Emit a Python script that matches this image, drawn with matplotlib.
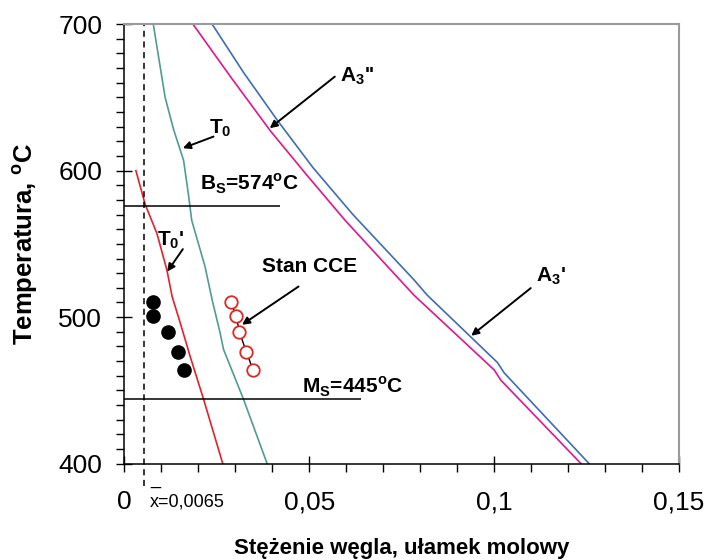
import numpy as np
import matplotlib
matplotlib.use('Agg')
import matplotlib.pyplot as plt
from matplotlib.ticker import MultipleLocator, FixedLocator

plt.rcParams['font.family'] = ['Liberation Sans', 'DejaVu Sans']
plt.rcParams['mathtext.fontset'] = 'custom'
plt.rcParams['mathtext.rm'] = 'Liberation Sans'
plt.rcParams['mathtext.bf'] = 'Liberation Sans:bold'

# --- data ---
# A3' (blue)
a3p_T = [700, 667, 634.5, 602, 570, 525.5, 515, 469, 462, 400]
a3p_x = [0.0237, 0.0322, 0.0413, 0.0510, 0.0618, 0.0783, 0.0819, 0.1009, 0.1027, 0.1257]
# A3'' (magenta)
a3pp_T = [700, 664, 627, 597, 566, 515, 464, 457, 400]
a3pp_x = [0.0185, 0.0287, 0.0395, 0.0493, 0.0597, 0.0783, 0.1000, 0.1018, 0.1235]
# T0 (teal)
t0_T = [700, 650, 628, 607, 582, 566, 534.5, 512, 489, 478, 444, 400]
t0_x = [0.0078, 0.0110, 0.0133, 0.0160, 0.0174, 0.0182, 0.0218, 0.0237, 0.0259, 0.0268, 0.0322, 0.0386]
# T0' (red)
t0p_T = [600, 577, 557, 532, 514, 496, 473, 444, 400]
t0p_x = [0.0031, 0.0056, 0.0088, 0.0115, 0.0129, 0.0151, 0.0178, 0.0214, 0.0266]
# measured points
pts_T = [510, 501, 490, 476, 464]
bain_x = [0.0076, 0.0077, 0.0119, 0.0146, 0.0160]   # filled black
cce_x = [0.0288, 0.0302, 0.0311, 0.0330, 0.0348]    # open red (Stan CCE)

x_mean = 0.0053
Bs = 576
Ms = 444

fig = plt.figure(figsize=(7.07, 5.6), dpi=100)
ax = fig.add_axes([0.176, 0.172, 0.7844, 0.7851])

ax.plot(a3p_x, a3p_T, color='#3c6cbe', lw=1.2)
ax.plot(a3pp_x, a3pp_T, color='#e6158a', lw=1.2)
ax.plot(t0_x, t0_T, color='#4f9d92', lw=1.2)
ax.plot(t0p_x, t0p_T, color='#e8202a', lw=1.2)

ax.plot(cce_x, pts_T, color='black', lw=1.0, zorder=3)
ax.plot(cce_x, pts_T, 'o', ms=9, mfc='white', mec='#e52521', mew=1.3, zorder=4)
ax.plot(bain_x, pts_T, 'o', ms=9.5, color='black', zorder=4)

ax.hlines(Bs, 0, 0.0422, color='black', lw=1.1)
ax.hlines(Ms, 0, 0.0639, color='black', lw=1.1)
ax.axvline(x_mean, ymin=-0.051, ymax=1, color='black', lw=1.1,
           ls=(0, (4, 3)), clip_on=False)

ax.set_xlim(0, 0.15)
ax.set_ylim(400, 700)

ax.xaxis.set_major_locator(FixedLocator([0, 0.05, 0.1, 0.15]))
ax.xaxis.set_minor_locator(MultipleLocator(0.01))
ax.yaxis.set_major_locator(MultipleLocator(100))
ax.yaxis.set_minor_locator(MultipleLocator(10))
ax.set_xticklabels(['0', '0,05', '0,1', '0,15'])
ax.tick_params(which='major', direction='inout', length=12, width=1.0, labelsize=19)
ax.tick_params(which='minor', direction='out', length=6, width=1.0)
ax.tick_params(axis='x', which='major', pad=13)
ax.tick_params(axis='y', which='major', pad=10)

for s in ['top', 'right']:
    ax.spines[s].set_color('#9a9a9a')
    ax.spines[s].set_linewidth(1.5)
for s in ['left', 'bottom']:
    ax.spines[s].set_linewidth(1.1)

ax.set_xlabel('Stężenie węgla, ułamek molowy', fontsize=16, fontweight='bold')
ax.xaxis.set_label_coords(0.5, -0.192)
ax.xaxis.label.set_va('center')
ax.set_ylabel(r'Temperatura, $^\mathbf{o}$C', fontsize=18.5, fontweight='bold')
ax.yaxis.set_label_coords(-0.179, 0.5)
ax.yaxis.label.set_va('center')

lab = dict(fontsize=15, fontweight='bold', va='baseline', ha='left')
ax.text(0.0205, 586.8, r'B$_\mathbf{S}$=574$^\mathbf{o}$C', **lab)
ax.text(0.0479, 448.2, r'M$_\mathbf{S}$=445$^\mathbf{o}$C', **lab)
ax.text(0.0230, 625.7, r'T$_\mathbf{0}$', **lab)
ax.text(0.0088, 549.2, r"T$_\mathbf{0}$'", **lab)
ax.text(0.0584, 660.7, r"A$_\mathbf{3}$''", **lab)
ax.text(0.1113, 524.3, r"A$_\mathbf{3}$'", **lab)
ax.text(0.0372, 531.1, 'Stan CCE', **lab)

arr = dict(arrowstyle='-|>', color='black', lw=1.4, mutation_scale=11,
           shrinkA=0, shrinkB=0)
ax.annotate('', xy=(0.0158, 615.3), xytext=(0.0241, 623.2), arrowprops=arr)
ax.annotate('', xy=(0.0116, 531.1), xytext=(0.0158, 546.4), arrowprops=arr)
ax.annotate('', xy=(0.0393, 628.9), xytext=(0.0569, 664.1), arrowprops=arr)
ax.annotate('', xy=(0.0938, 487.3), xytext=(0.1099, 519.8), arrowprops=arr)
ax.annotate('', xy=(0.0318, 494.8), xytext=(0.0471, 520.9), arrowprops=arr)

ax.text(0.0069, 374, 'x=0,0065', fontsize=13, va='center', ha='left', clip_on=False)
ax.text(0.0069, 386, '_', fontsize=13, va='baseline', ha='left', clip_on=False)

fig.savefig('out.png', dpi=100)
